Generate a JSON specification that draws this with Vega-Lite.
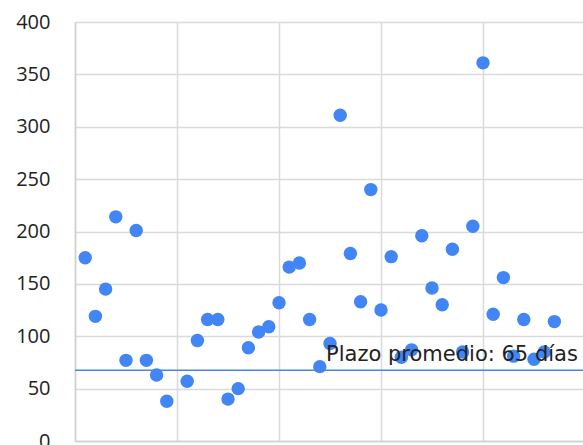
{
  "$schema": "https://vega.github.io/schema/vega-lite/v6.json",
  "autosize": {"type": "none"},
  "padding": {"left": 75, "top": 22, "right": 0, "bottom": 4},
  "width": 510,
  "height": 419,
  "background": "white",
  "config": {
    "view": {"stroke": null},
    "font": "Open Sans"
  },
  "datasets": {
    "points": [
      {"i": 1, "dias": 175}, {"i": 2, "dias": 119}, {"i": 3, "dias": 145}, {"i": 4, "dias": 214},
      {"i": 5, "dias": 77}, {"i": 6, "dias": 201}, {"i": 7, "dias": 77}, {"i": 8, "dias": 63},
      {"i": 9, "dias": 38}, {"i": 11, "dias": 57}, {"i": 12, "dias": 96}, {"i": 13, "dias": 116},
      {"i": 14, "dias": 116}, {"i": 15, "dias": 40}, {"i": 16, "dias": 50}, {"i": 17, "dias": 89},
      {"i": 18, "dias": 104}, {"i": 19, "dias": 109}, {"i": 20, "dias": 132}, {"i": 21, "dias": 166},
      {"i": 22, "dias": 170}, {"i": 23, "dias": 116}, {"i": 24, "dias": 71}, {"i": 25, "dias": 93},
      {"i": 26, "dias": 311}, {"i": 27, "dias": 179}, {"i": 28, "dias": 133}, {"i": 29, "dias": 240},
      {"i": 30, "dias": 125}, {"i": 31, "dias": 176}, {"i": 32, "dias": 80}, {"i": 33, "dias": 87},
      {"i": 34, "dias": 196}, {"i": 35, "dias": 146}, {"i": 36, "dias": 130}, {"i": 37, "dias": 183},
      {"i": 38, "dias": 85}, {"i": 39, "dias": 205}, {"i": 40, "dias": 361}, {"i": 41, "dias": 121},
      {"i": 42, "dias": 156}, {"i": 43, "dias": 81}, {"i": 44, "dias": 116}, {"i": 45, "dias": 78},
      {"i": 46, "dias": 85}, {"i": 47, "dias": 114}
    ],
    "promedio": [
      {"valor": 67.5, "xlabel": 49.3, "label": "Plazo promedio: 65 días"}
    ]
  },
  "layer": [
    {
      "data": {"name": "points"},
      "mark": {"type": "circle", "size": 180, "color": "#4285F4", "opacity": 1},
      "encoding": {
        "x": {
          "field": "i", "type": "quantitative",
          "scale": {"domain": [0, 50], "nice": false},
          "axis": {
            "title": null, "labels": false, "ticks": false,
            "values": [0, 10, 20, 30, 40, 50],
            "grid": true, "gridColor": "#dadada", "gridWidth": 1.5,
            "domain": true, "domainColor": "#d0d0d0", "domainWidth": 1.5
          }
        },
        "y": {
          "field": "dias", "type": "quantitative",
          "scale": {"domain": [0, 400], "nice": false},
          "axis": {
            "title": null, "ticks": false,
            "values": [0, 50, 100, 150, 200, 250, 300, 350, 400],
            "grid": true, "gridColor": "#dadada", "gridWidth": 1.5,
            "domain": true, "domainColor": "#d0d0d0", "domainWidth": 1.5,
            "labelFontSize": 20, "labelColor": "#222222", "labelPadding": 25
          }
        }
      }
    },
    {
      "data": {"name": "promedio"},
      "mark": {"type": "rule", "color": "#4a86e0", "strokeWidth": 1.5},
      "encoding": {
        "y": {"field": "valor", "type": "quantitative"}
      }
    },
    {
      "data": {"name": "promedio"},
      "mark": {"type": "text", "align": "right", "baseline": "alphabetic", "dy": -9, "fontSize": 21, "font": "DejaVu Sans", "color": "#222222"},
      "encoding": {
        "x": {"field": "xlabel", "type": "quantitative"},
        "y": {"field": "valor", "type": "quantitative"},
        "text": {"field": "label"}
      }
    }
  ]
}
